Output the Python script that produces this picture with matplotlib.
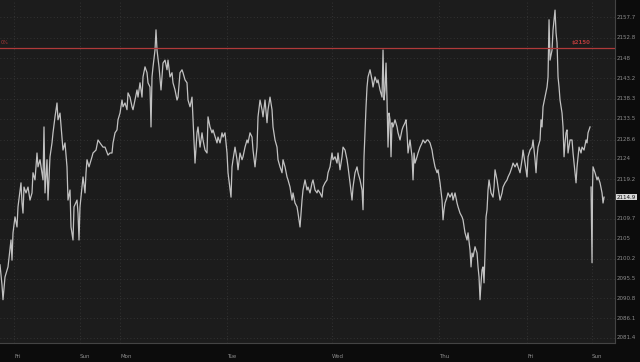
import numpy as np
import matplotlib
matplotlib.use("Agg")
import matplotlib.pyplot as plt

# (bar, price), one list per session
fri = [(0, 2098.8), (2, 2094.0), (3, 2090.5), (5, 2095.9), (8, 2098.3), (11, 2104.7), (12, 2099.9),
       (13, 2106.4), (15, 2110.2), (17, 2107.8), (18, 2112.6), (21, 2118.3), (22, 2113.5), (23, 2111.1),
       (24, 2117.3), (26, 2115.9), (28, 2117.3), (30, 2114.2), (32, 2115.9), (33, 2120.7), (35, 2119.0),
       (37, 2125.4), (38, 2122.1), (40, 2123.8), (43, 2119.0), (44, 2131.6), (45, 2115.9), (47, 2123.8),
       (48, 2114.2), (50, 2124.5), (52, 2127.8), (53, 2130.2), (55, 2134.0), (57, 2137.3), (58, 2133.3),
       (60, 2134.9), (62, 2129.2), (63, 2126.1), (65, 2127.8), (67, 2122.1), (68, 2114.2), (70, 2116.6),
       (71, 2107.8), (73, 2104.7), (74, 2112.6), (77, 2114.2), (78, 2111.1), (79, 2104.7)]
sun_mon = [(80, 2112.6), (82, 2117.3), (83, 2119.7), (85, 2115.9), (86, 2120.7), (87, 2123.8), (89, 2122.1),
           (92, 2124.5), (93, 2125.4), (96, 2126.1), (98, 2128.5), (100, 2127.8), (103, 2126.8), (105, 2126.8),
           (108, 2124.9), (110, 2125.4), (112, 2125.4), (113, 2127.8), (115, 2130.2), (117, 2130.9),
           (118, 2133.3), (120, 2134.9), (122, 2138.0), (123, 2136.4), (125, 2137.3), (127, 2135.7),
           (128, 2139.7), (130, 2138.7), (132, 2136.4), (133, 2135.7), (135, 2138.0), (137, 2140.4),
           (138, 2138.7), (140, 2142.1), (142, 2138.7), (143, 2143.5), (145, 2145.9), (147, 2144.5),
           (148, 2142.1), (150, 2141.1), (151, 2131.6), (152, 2143.5), (153, 2145.9), (155, 2149.9),
           (156, 2154.7), (157, 2149.9), (159, 2145.9), (161, 2140.4), (162, 2143.5), (163, 2146.8),
           (165, 2147.5), (167, 2145.2), (168, 2147.5), (170, 2143.5), (172, 2144.5), (173, 2142.1),
           (175, 2140.4), (177, 2138.0), (178, 2138.7), (180, 2144.5), (182, 2145.2), (183, 2144.5),
           (185, 2142.8), (187, 2142.1), (188, 2138.0), (190, 2136.4), (192, 2138.7), (193, 2133.3),
           (194, 2128.5), (195, 2123.0), (197, 2130.2), (198, 2131.6), (200, 2126.8), (202, 2130.2),
           (203, 2128.5), (205, 2126.1), (207, 2125.4), (208, 2134.0), (210, 2131.6), (212, 2130.2),
           (213, 2130.9), (217, 2127.8), (218, 2129.2), (220, 2127.8), (222, 2130.2), (223, 2129.2),
           (225, 2130.2)]
tue = [(227, 2125.4), (228, 2120.7), (231, 2114.9), (232, 2122.1), (233, 2123.8), (235, 2126.8),
       (237, 2123.8), (238, 2121.4), (240, 2125.4), (242, 2123.8), (243, 2124.5), (245, 2126.8),
       (247, 2128.5), (248, 2127.8), (250, 2130.2), (252, 2129.2), (253, 2126.1), (255, 2122.1),
       (257, 2126.8), (258, 2134.0), (260, 2138.0), (262, 2135.7), (263, 2134.0), (265, 2138.0),
       (267, 2132.6), (268, 2135.7), (270, 2138.7), (272, 2135.7), (273, 2131.6), (275, 2128.5),
       (277, 2126.8), (278, 2123.8), (280, 2122.1), (282, 2120.7), (283, 2123.8), (285, 2122.1),
       (287, 2119.7), (288, 2119.0), (290, 2117.3), (292, 2114.2), (293, 2115.9), (295, 2113.5),
       (297, 2112.6), (298, 2111.1), (300, 2107.8), (302, 2114.2), (303, 2116.6), (305, 2119.0),
       (307, 2116.6), (308, 2117.3), (310, 2115.9), (312, 2118.3), (313, 2119.0), (315, 2116.6),
       (317, 2115.9), (318, 2116.6), (320, 2115.9), (322, 2114.9), (323, 2117.3), (325, 2118.3),
       (327, 2119.0), (328, 2120.7), (330, 2122.1)]
wed = [(332, 2125.4), (333, 2123.8), (335, 2124.5), (337, 2123.0), (338, 2125.4), (340, 2121.4),
       (342, 2124.5), (343, 2126.8), (345, 2126.1), (347, 2123.8), (348, 2122.1), (350, 2118.3),
       (352, 2114.2), (353, 2117.3), (355, 2120.7), (357, 2122.1), (358, 2120.7), (360, 2119.0),
       (362, 2116.6), (363, 2111.9), (364, 2124.5), (366, 2136.4), (367, 2141.1), (368, 2143.5),
       (370, 2145.2), (372, 2142.8), (373, 2141.1), (375, 2143.5), (377, 2142.1), (378, 2142.8),
       (380, 2140.4), (382, 2138.7), (383, 2149.9), (384, 2138.0), (385, 2140.4), (386, 2146.8),
       (387, 2138.0), (388, 2126.8), (389, 2134.9), (390, 2133.3), (391, 2124.5), (392, 2132.6),
       (393, 2131.6), (395, 2133.3), (397, 2131.6), (398, 2130.2), (400, 2128.5), (402, 2130.9),
       (403, 2131.6), (405, 2132.6), (406, 2133.3), (407, 2130.2), (408, 2125.4), (410, 2128.5),
       (412, 2124.5), (413, 2119.0), (414, 2125.4), (415, 2123.0), (417, 2124.5), (418, 2125.4),
       (420, 2126.8), (422, 2127.8), (423, 2128.5), (425, 2127.8), (427, 2128.5), (428, 2128.5),
       (430, 2127.8), (432, 2126.1), (433, 2124.5), (435, 2122.1), (437, 2120.7)]
thu = [(438, 2121.4), (440, 2118.3), (442, 2114.2), (443, 2109.5), (444, 2111.9), (445, 2113.5),
       (447, 2114.9), (448, 2115.9), (450, 2114.9), (452, 2115.9), (453, 2114.2), (455, 2115.9),
       (457, 2113.5), (458, 2112.6), (460, 2111.1), (462, 2110.2), (463, 2109.5), (465, 2106.4),
       (467, 2104.7), (468, 2106.4), (470, 2102.3), (471, 2098.3), (472, 2101.6), (473, 2100.7),
       (475, 2103.1), (477, 2101.6), (478, 2098.3), (479, 2095.9), (480, 2090.5), (481, 2094.5),
       (482, 2097.6), (483, 2098.3), (484, 2094.5), (485, 2101.6), (486, 2110.2), (487, 2111.9),
       (488, 2116.6), (489, 2119.0), (491, 2115.9), (493, 2114.9), (494, 2117.3), (495, 2121.4),
       (497, 2119.0), (498, 2117.3), (500, 2114.2), (502, 2115.9), (503, 2117.3), (505, 2118.3),
       (507, 2119.0), (508, 2119.7), (510, 2120.7), (512, 2122.1), (513, 2123.0), (515, 2122.1),
       (517, 2123.0), (518, 2122.1), (520, 2120.7), (522, 2123.8), (523, 2126.1), (525, 2123.0)]
fri2 = [(527, 2119.7), (528, 2124.5), (530, 2126.1), (532, 2126.8), (533, 2128.5), (535, 2123.8),
        (536, 2120.7), (537, 2124.5), (538, 2126.8), (540, 2128.5), (541, 2133.3), (542, 2131.6),
        (543, 2136.4), (545, 2138.7), (547, 2141.1), (548, 2143.5), (549, 2157.1), (550, 2147.5),
        (552, 2149.9), (553, 2154.7), (554, 2157.1), (555, 2159.4), (556, 2154.0), (557, 2151.6),
        (558, 2143.5), (559, 2141.1), (560, 2138.0), (562, 2134.9), (563, 2131.6), (564, 2124.5),
        (565, 2127.8), (566, 2130.2), (567, 2130.9), (568, 2125.4), (570, 2128.5), (572, 2128.5),
        (573, 2125.4), (575, 2120.7), (576, 2118.3), (577, 2122.1), (579, 2126.8), (581, 2125.4),
        (582, 2126.8), (584, 2126.1), (586, 2128.5), (587, 2127.8), (588, 2130.2), (590, 2131.6)]
sun2 = [(591, 2117.3), (592, 2099.3), (592.5, 2117.3), (593, 2122.1), (595, 2120.7), (597, 2119.0),
        (598, 2119.7), (600, 2118.3), (602, 2115.9), (603, 2113.5), (604, 2114.9)]

day_labels = ["Fri", "Sun", "Mon", "Tue", "Wed", "Thu", "Fri", "Sun"]
day_bars = [14, 80, 120, 227, 332, 439, 527, 592]
y_ticks = [2157.7, 2152.8, 2148, 2143.2, 2138.3, 2133.5, 2128.6, 2124, 2119.2, 2114.4,
           2109.7, 2105, 2100.2, 2095.5, 2090.8, 2086.1, 2081.4]
alert_level = 2150.4
alert_text = "$2150"
last_price = sun2[-1][1]

outer_bg = "#0c0c0c"
plot_bg = "#1c1c1c"
grid_c = "#3a3a3a"
text_c = "#8c8c8c"
red = "#b03a3a"
line_c = "#d4d4d4"

fig = plt.figure(figsize=(6.4, 3.62), dpi=100, facecolor=outer_bg)
ax = fig.add_axes([0.0, 0.0525, 0.961, 0.9475])
ax.set_facecolor(plot_bg)

main = fri + sun_mon + tue + wed + thu + fri2
bx, py = zip(*main)
ax.plot(bx, py, color=line_c, lw=0.9, alpha=0.9)
sx, sy = zip(*sun2)
ax.plot(sx, sy, color=line_c, lw=0.9, alpha=0.9)

ax.set_xlim(0, 615)
ax.set_ylim(2080.2, 2161.8)

for b in day_bars:
    ax.axvline(b, color=grid_c, lw=0.6, ls=(0, (1, 3)), zorder=0)
for t in y_ticks:
    ax.axhline(t, color=grid_c, lw=0.6, ls=(0, (1, 3)), zorder=0)

ax.axhline(alert_level, color=red, lw=0.9)
ax.text(590, alert_level + 0.6, alert_text, color=red, fontsize=4, ha="right", va="bottom",
        fontweight="bold")
ax.text(1, alert_level + 0.6, "0%", color=red, fontsize=3.5, ha="left", va="bottom")

ax.set_xticks([])
ax.set_yticks([])
for s in ax.spines.values():
    s.set_visible(False)
ax.spines["right"].set_visible(True)
ax.spines["right"].set_color("#444444")
ax.spines["bottom"].set_visible(True)
ax.spines["bottom"].set_color("#444444")

# tick labels outside the plot area
for t in y_ticks:
    if t == 2114.4:
        continue
    ax.text(617, t, str(t), color=text_c, fontsize=4, ha="left", va="center", clip_on=False)
ax.text(617, last_price, f"{last_price:.1f}", color="#111111", fontsize=4, ha="left", va="center",
        clip_on=False, bbox=dict(boxstyle="square,pad=0.15", fc="#d8d8d8", ec="none"))
for lab, b in zip(day_labels, day_bars):
    ax.text(b, 2076.9, lab, color=text_c, fontsize=4, ha="left", va="center", clip_on=False)

fig.savefig("out.png", dpi=100, facecolor=outer_bg)
